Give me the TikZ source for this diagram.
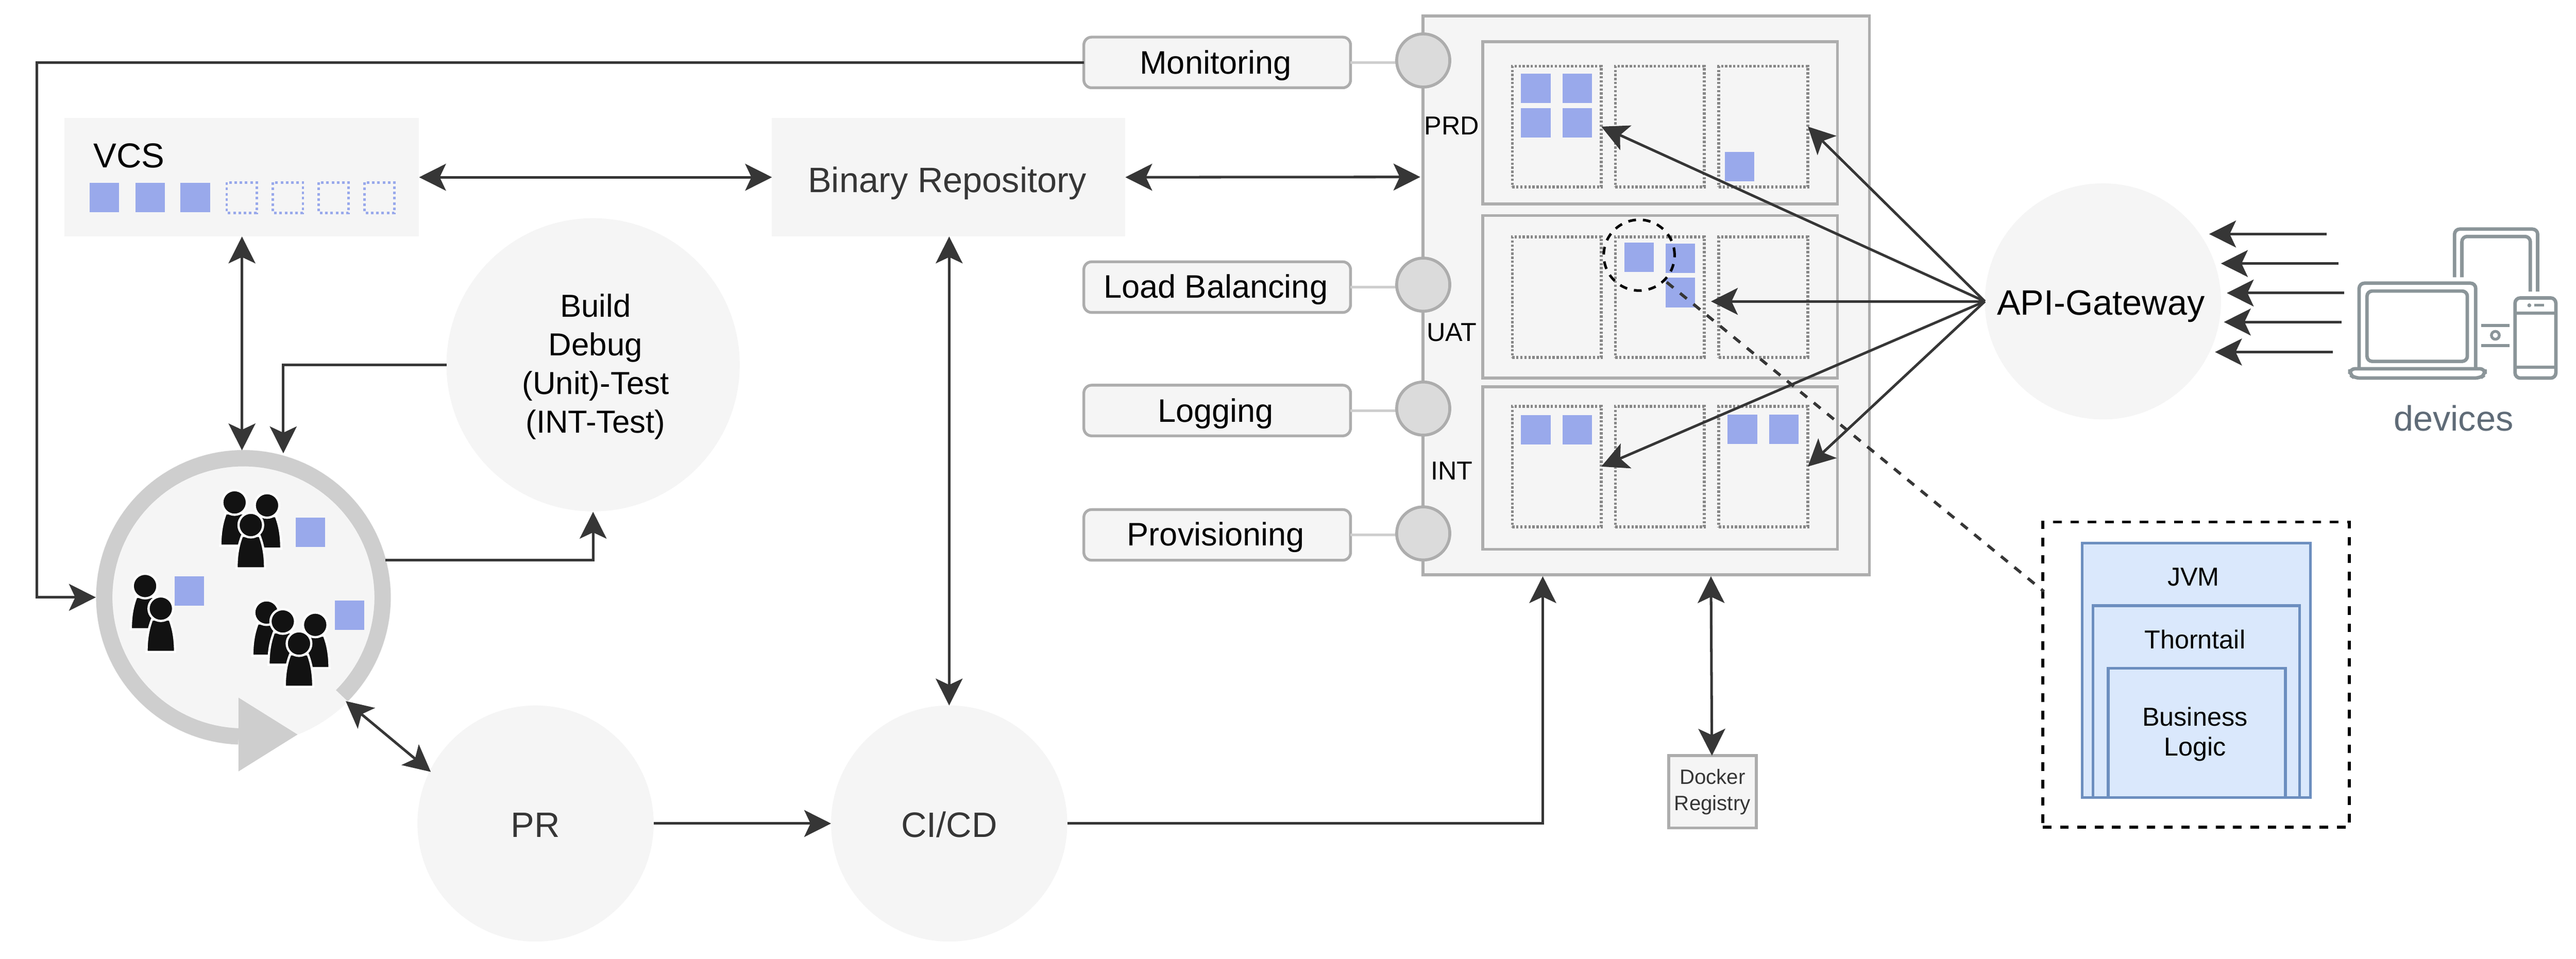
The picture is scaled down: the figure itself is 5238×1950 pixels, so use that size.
\documentclass[tikz,border=0pt]{standalone}
\usepackage{fontspec}
\setmainfont{Liberation Sans}
\usetikzlibrary{arrows.meta}
\definecolor{boxfill}{HTML}{F5F5F5}
\definecolor{edge}{HTML}{ADADAD}
\definecolor{ring}{HTML}{CECECE}
\definecolor{lnk}{HTML}{363636}
\definecolor{sqc}{HTML}{99A9EB}
\definecolor{dev}{HTML}{8B9599}
\definecolor{devtxt}{HTML}{5F6B77}
\definecolor{jvmf}{HTML}{DAE8FC}
\definecolor{jvms}{HTML}{6C8EBF}
\newcommand\fs[1]{\fontsize{#1pt}{#1pt}\selectfont}
\newcommand\fsl[2]{\fontsize{#1pt}{#2pt}\selectfont}
\tikzset{
  every node/.style={inner sep=0pt,outer sep=0pt},
  softcirc/.style={circle,fill=boxfill,text=lnk,align=center},
  softbox/.style={rectangle,fill=boxfill,text=lnk},
  tagbox/.style={rectangle,rounded corners=4.5pt,fill=boxfill,draw=edge,line width=1.6pt,minimum width=5.42cm,minimum height=1.03cm},
  tagtext/.style={font=\fs{18.8},text=black},
  port/.style={circle,fill=black!14,draw=edge,line width=1.7pt,minimum size=1.08cm},
  stub/.style={draw=ring,line width=1.5pt},
  envbox/.style={rectangle,fill=boxfill,draw=edge,line width=1.7pt,minimum width=7.21cm,minimum height=3.3cm},
  dotbox/.style={rectangle,draw=black!47,line width=1.6pt,dash pattern=on 1.3pt off 1.03pt,minimum width=1.81cm,minimum height=2.45cm},
  sq/.style={fill=sqc},
  vdot/.style={draw=sqc,line width=1.4pt,dash pattern=on 1.5pt off 1.55pt},
  lnkline/.style={draw=lnk,line width=1.5pt},
  arr/.style={lnkline,-{Stealth[length=15.5pt,width=15.5pt,inset=3.6pt]}},
  darr/.style={lnkline,{Stealth[length=15.5pt,width=15.5pt,inset=3.6pt]}-{Stealth[length=15.5pt,width=15.5pt,inset=3.6pt]}},
  devline/.style={draw=dev,line width=2pt,rounded corners=3pt},
  jbox/.style={rectangle,fill=jvmf,draw=jvms,line width=1.6pt},
  jtext/.style={text=black,align=center},
}
\newcommand\bsq[2]{\fill[sq] (#1,#2) rectangle ++(60,60);}
\newcommand\vsq[1]{\draw[vdot] (#1,371) rectangle ++(61,62);}
\newcommand\person[2]{%
  \begin{scope}[shift={(#1,#2)}]
    \fill[black!93,draw=white,line width=1.3pt] (-29,88) .. controls (-29,60) and (-25,40) .. (-18,22) -- (18,22) .. controls (25,40) and (29,60) .. (29,88) -- cycle;
    \fill[black!93,draw=white,line width=1.3pt] (0,0) circle[radius=25];
  \end{scope}}
\begin{document}
\begin{tikzpicture}[x=0.01cm,y=-0.01cm]
\useasboundingbox (0,0) rectangle (5238,1950);
% platform
\node[rectangle,fill=boxfill,draw=edge,line width=1.7pt,minimum width=9.07cm,minimum height=11.36cm] (plat) at (3347.5,601) {};
\node[envbox] (prd) at (3375.5,250) {};
\node[envbox] (uat) at (3375.5,603.5) {};
\node[envbox] (int) at (3375.5,952) {};
\foreach \n/\y in {prd/257.5,uat/604.5,int/949}{
  \node[dotbox] (\n1) at (3165.5,\y) {};
  \node[dotbox] (\n2) at (3375,\y) {};
  \node[dotbox] (\n3) at (3585.5,\y) {};
}
\bsq{3093}{150}\bsq{3177}{150}\bsq{3093}{220}\bsq{3177}{220}\bsq{3507}{309}
\bsq{3303}{493}\bsq{3387}{495}\bsq{3387}{565}
\bsq{3093}{844}\bsq{3177}{844}\bsq{3513}{843}\bsq{3597}{843}
\node[font=\fs{15},text=black] (lprd) at (2952,256) {PRD};
\node[font=\fs{15},text=black] (luat) at (2952,676) {UAT};
\node[font=\fs{15},text=black] (lint) at (2952,958) {INT};
% tags and ports
\node[tagbox] (mon) at (2475,127) {};
\node[tagbox] (lb) at (2475,584) {};
\node[tagbox] (log) at (2475,835) {};
\node[tagbox] (prov) at (2475,1088) {};
\node[tagtext,anchor=base] (tmon) at (2472,150) {Monitoring};
\node[tagtext,anchor=base] (tlb) at (2472,606) {Load Balancing};
\node[tagtext,anchor=base] (tlog) at (2472,858) {Logging};
\node[tagtext,anchor=base] (tprov) at (2472,1110) {Provisioning};
\draw[stub] (mon.east) -- (mon.east -| plat.west);
\draw[stub] (lb.east) -- (lb.east -| plat.west);
\draw[stub] (log.east) -- (log.east -| plat.west);
\draw[stub] (prov.east) -- (prov.east -| plat.west);
\node[port] (p1) at (2894,123) {};
\node[port] (p2) at (2894,579) {};
\node[port] (p3) at (2894,831) {};
\node[port] (p4) at (2894,1085) {};
% soft shapes
\node[softbox,minimum width=7.21cm,minimum height=2.41cm] (vcs) at (491.5,360.5) {};
\node[anchor=base west,font=\fs{20},text=black] (vcslabel) at (190,341) {VCS};
\foreach \x in {182,275,367}{\bsq{\x}{372}}
\foreach \x in {461,555,648,741}{\vsq{\x}}
\node[softbox,minimum width=7.18cm,minimum height=2.41cm] (bin) at (1929,360.5) {};
\node[anchor=base,font=\fs{20.4},text=lnk] (tbin) at (1926,391) {Binary Repository};
\node[softcirc,minimum size=5.96cm] (build) at (1206,742) {};
\node[anchor=center,font=\fsl{18.4}{22.4},text=black,align=center] (tbuild) at (1211,746) {Build\\Debug\\(Unit)-Test\\(INT-Test)};
\node[softcirc,minimum size=4.8cm] (pr) at (1089,1675) {};
\node[anchor=base,font=\fs{20.4},text=lnk] (tpr) at (1089,1703) {PR};
\node[softcirc,minimum size=4.8cm] (cicd) at (1930,1675) {};
\node[anchor=base,font=\fs{20.4},text=lnk] (tcicd) at (1930,1703) {CI/CD};
\node[softcirc,minimum size=4.8cm] (gw) at (4276,613) {};
\node[anchor=base,font=\fs{20.4},text=black] (tgw) at (4272,641) {API-Gateway};
% team circle
\node[circle,fill=boxfill,minimum size=6cm] (team) at (495,1215) {};
\draw[draw=ring,line width=9.4pt] plot[domain=45:-268,samples=120] ({495+283*cos(\x)},{1215+283*sin(\x)});
\fill[ring] (485,1419) -- (605,1494) -- (485,1569) -- cycle;
\person{477}{1022}\person{543}{1028}\person{510}{1068}
\person{295}{1192}\person{327}{1238}
\person{542}{1246}\person{575}{1264}\person{641}{1271}\person{608}{1309}
\bsq{601}{1053}\bsq{355}{1172}\bsq{681}{1221}
% docker
\node[rectangle,fill=boxfill,draw=edge,line width=1.6pt,minimum width=1.78cm,minimum height=1.47cm,font=\fsl{12}{15.2},text=lnk,align=center] (docker) at (3482,1610.5) {Docker\\Registry};
% detail box
\node[rectangle,draw=black,line width=1.7pt,dash pattern=on 5pt off 5pt,minimum width=6.23cm,minimum height=6.2cm] (detail) at (4465.5,1372) {};
\node[jbox,minimum width=4.64cm,minimum height=5.17cm] (jvm) at (4466,1363.5) {};
\node[jbox,minimum width=4.2cm,minimum height=3.9cm] (thorn) at (4466,1427) {};
\node[jbox,minimum width=3.6cm,minimum height=2.63cm] (biz) at (4467,1490.5) {};
\node[jtext,font=\fs{15}] (tjvm) at (4460,1174) {JVM};
\node[jtext,font=\fs{15}] (tthorn) at (4463,1301) {Thorntail};
\node[jtext,font=\fsl{15}{17.2}] (tbiz) at (4463,1493) {Business\\Logic};
% devices icon
\draw[devline] (4797,752) -- (4797,576) -- (5034,576) -- (5034,752);
\draw[devline] (4813,592) rectangle (5017,735);
\draw[devline] (4778,750) -- (5053,750) -- (5053,762) -- (5043,769) -- (4788,769) -- (4778,762) -- cycle;
\draw[devline] (4991,564) -- (4991,466) -- (5160,466) -- (5160,593);
\draw[devline] (5006,564) -- (5006,481) -- (5145,481) -- (5145,593);
\draw[devline] (5114,606) rectangle (5197,769);
\draw[devline] (5114,637) -- (5197,637);
\draw[devline] (5114,747) -- (5197,747);
\draw[dev,line width=1.6pt] (5153,621) -- (5173,621);
\fill[dev] (5143,621) circle[radius=4];
\draw[dev,line width=2pt] (5045,662) -- (5103,662);
\draw[dev,line width=2pt] (5045,703) -- (5103,703);
\draw[dev,line width=1.6pt] (5074,682) circle[radius=8];
\node[anchor=base,font=\fs{20.4},text=devtxt] (devlabel) at (4989,876) {devices};
% free ends
\coordinate (corner) at (75,127);
\coordinate (buildout) at (576,742);
\coordinate (teamtop) at (492,916);
\coordinate (teamtop2) at (576,922);
\coordinate (teamr) at (784,1139);
\coordinate (buildb) at (1206,1041);
\coordinate (teamlr) at (703,1426);
\coordinate (prul) at (876,1570);
\coordinate (platb1) at (3137,1172);
\coordinate (platb2) at (3479,1172);
\coordinate (plat1) at (2888,360);
\coordinate (dock) at (3481,1537);
\coordinate (uatt) at (3479,613);
\coordinate (dc1) at (3389,574);
\coordinate (dc2) at (4156,1203);
\foreach \i/\y/\ta/\tb in {1/476/4731/4492,2/536/4755/4516,3/596/4767/4528,4/655/4761/4522,5/716/4743/4504}{
  \coordinate (ds\i) at (\ta,\y);
  \coordinate (de\i) at (\tb,\y);
}
% connectors
\draw[arr] (mon.west) -- (corner) |- (team.west);
\draw[darr] (vcs.east) -- (bin.west);
\draw[darr] (bin.east) -- (plat1);
\draw[darr] (vcs.south -| teamtop) -- (teamtop);
\draw[arr] (build.west) -- (buildout) -- (teamtop2);
\draw[arr] (teamr) -- (teamr -| buildb) -- (buildb);
\draw[darr] (teamlr) -- (prul);
\draw[arr] (pr.east) -- (cicd.west);
\draw[darr] (bin.south -| cicd.north) -- (cicd.north);
\draw[arr] (cicd.east) -| (platb1);
\draw[darr] (platb2) -- (dock);
\draw[arr] (gw.west) -- (prd1.east);
\draw[arr] (gw.west) -- (prd3.east);
\draw[arr] (gw.west) -- (uatt);
\draw[arr] (gw.west) -- (int1.east);
\draw[arr] (gw.west) -- (int3.east);
\foreach \i in {1,...,5}{\draw[arr] (ds\i) -- (de\i);}
\node[circle,draw=black,line width=1.5pt,dash pattern=on 4.5pt off 4pt,minimum size=1.44cm] (dc) at (3333,519) {};
\draw[lnkline,line width=1.7pt,dash pattern=on 5pt off 5pt] (dc1) -- (dc2);
\end{tikzpicture}
\end{document}
